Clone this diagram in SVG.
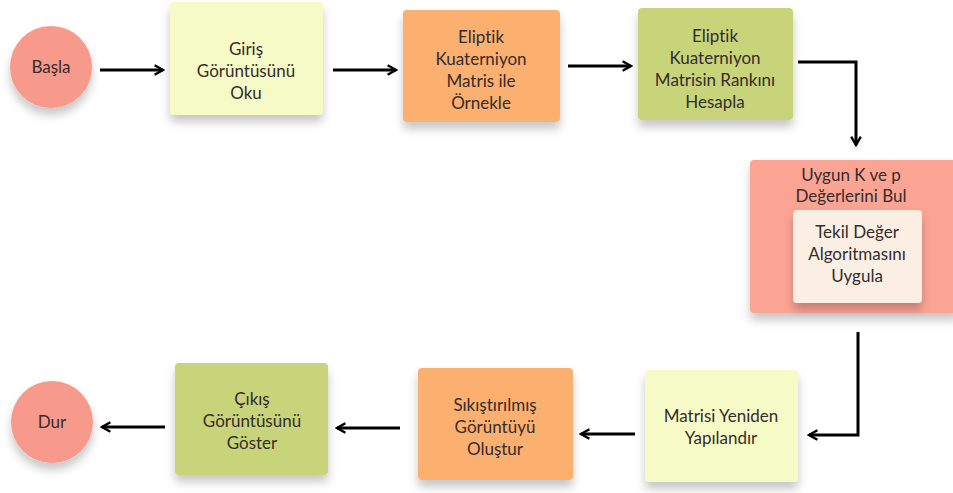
<svg xmlns="http://www.w3.org/2000/svg" width="953" height="493" viewBox="0 0 953 493">
<style>
text{font-family:Lato,"Noto Sans","DejaVu Sans",sans-serif;font-size:17px;fill:#352c2c;text-anchor:middle;font-variant-ligatures:none}
.c{stroke:#000;stroke-width:3;fill:none}
.y{fill:#f5fac6}
.o{fill:#fbb06f}
.g{fill:#c8d47a}
.p{fill:#fca494}
.r{fill:#f89a8b}
.in{fill:#fbefe3}
</style>
<defs>
<filter id="sh" x="-20%" y="-20%" width="140%" height="150%">
<feDropShadow dx="0" dy="7" stdDeviation="5" flood-color="#000" flood-opacity="0.22"/>
</filter>
<marker id="ah" viewBox="0 0 10 10" refX="8" refY="5" markerWidth="4" markerHeight="4" orient="auto" markerUnits="strokeWidth">
<path d="M1,1 L8,5 L1,9" fill="none" stroke="#000" stroke-width="2"/>
</marker>
</defs>
<g id="connectors">
<line class="c" x1="100" y1="70" x2="163" y2="70" marker-end="url(#ah)"/>
<line class="c" x1="333" y1="70" x2="396" y2="70" marker-end="url(#ah)"/>
<line class="c" x1="568" y1="66" x2="631" y2="66" marker-end="url(#ah)"/>
<polyline class="c" points="798,62 856,62 856,145" marker-end="url(#ah)"/>
<polyline class="c" points="858,332 858,435 809,435" marker-end="url(#ah)"/>
<line class="c" x1="635" y1="434" x2="581" y2="434" marker-end="url(#ah)"/>
<line class="c" x1="400" y1="428" x2="337" y2="428" marker-end="url(#ah)"/>
<line class="c" x1="165" y1="427" x2="102" y2="427" marker-end="url(#ah)"/>
</g>
<g id="basla">
<circle class="r" cx="51" cy="67" r="41" filter="url(#sh)"/>
<text x="51" y="73">Başla</text>
</g>
<g id="giris">
<rect class="y" x="170" y="2" width="153" height="113" rx="4" filter="url(#sh)"/>
<text x="246" y="55">Giriş</text>
<text x="246" y="77">Görüntüsünü</text>
<text x="246" y="99">Oku</text>
</g>
<g id="ornekle">
<rect class="o" x="403" y="10" width="157" height="112" rx="4" filter="url(#sh)"/>
<text x="481" y="43">Eliptik</text>
<text x="481" y="65">Kuaterniyon</text>
<text x="481" y="87">Matris ile</text>
<text x="481" y="109">Örnekle</text>
</g>
<g id="rank">
<rect class="g" x="638" y="8" width="155" height="112" rx="4" filter="url(#sh)"/>
<text x="715" y="42">Eliptik</text>
<text x="715" y="64">Kuaterniyon</text>
<text x="715" y="86">Matrisin Rankını</text>
<text x="715" y="108">Hesapla</text>
</g>
<g id="uygun">
<rect class="p" x="750" y="160" width="210" height="153" rx="4" filter="url(#sh)"/>
<text x="851" y="181">Uygun K ve p</text>
<text x="851" y="202">Değerlerini Bul</text>
<g id="tekil">
<rect class="in" x="793" y="210" width="129" height="93" rx="4" filter="url(#sh)"/>
<text x="857" y="238">Tekil Değer</text>
<text x="857" y="260">Algoritmasını</text>
<text x="857" y="282">Uygula</text>
</g>
</g>
<g id="yeniden">
<rect class="y" x="645" y="370" width="153" height="112" rx="4" filter="url(#sh)"/>
<text x="721" y="422">Matrisi Yeniden</text>
<text x="721" y="444">Yapılandır</text>
</g>
<g id="olustur">
<rect class="o" x="418" y="368" width="155" height="112" rx="4" filter="url(#sh)"/>
<text x="495" y="411">Sıkıştırılmış</text>
<text x="495" y="433">Görüntüyü</text>
<text x="495" y="455">Oluştur</text>
</g>
<g id="cikis">
<rect class="g" x="175" y="363" width="153" height="112" rx="4" filter="url(#sh)"/>
<text x="252" y="405">Çıkış</text>
<text x="252" y="427">Görüntüsünü</text>
<text x="252" y="449">Göster</text>
</g>
<g id="dur">
<circle class="r" cx="52" cy="422" r="41" filter="url(#sh)"/>
<text x="52" y="428">Dur</text>
</g>
</svg>
